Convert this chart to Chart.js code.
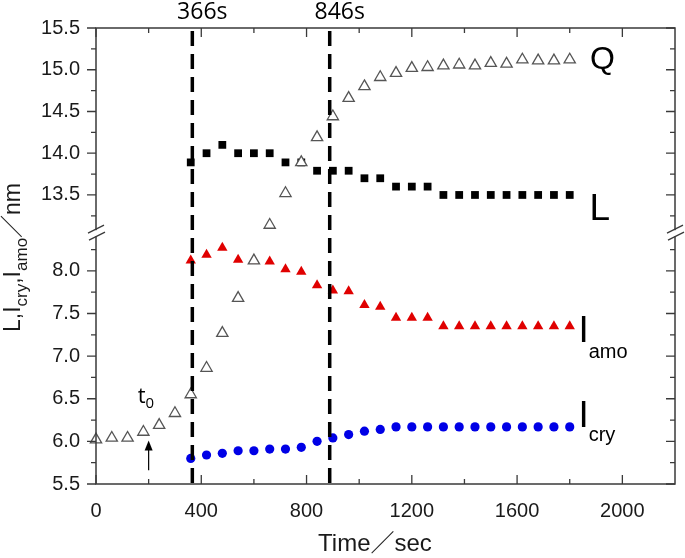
<!DOCTYPE html>
<html>
<head>
<meta charset="utf-8">
<script src="https://cdn.jsdelivr.net/npm/chart.js@4.4.0/dist/chart.umd.min.js"></script>
<style>
  html, body { margin: 0; padding: 0; background: #fff; }
</style>
</head>
<body>
<canvas id="myChart" width="685" height="558"></canvas>
<script>
'use strict';

// sampling times (s), one point every minute
let times = [0, 60, 120, 180, 240, 300, 360, 420, 480, 540, 600, 660, 720, 780, 840, 900,
  960, 1020, 1080, 1140, 1200, 1260, 1320, 1380, 1440, 1500, 1560, 1620, 1680, 1740, 1800];

// Q (open triangles), starts at t = 0
let qValues = [6.02, 6.04, 6.04, 6.11, 6.19, 6.33, 6.55, 6.86, 7.27, 7.68, 8.12,
  13.14, 13.52, 13.89, 14.19, 14.44, 14.66, 14.80, 14.91, 14.96, 15.02,
  15.03, 15.05, 15.06, 15.05, 15.08, 15.07, 15.12, 15.11, 15.11, 15.12];

// L, I_amo, I_cry start at t = 360
let lTimes = times.slice(6);
let lValues = [13.89, 14.00, 14.10, 14.00, 14.00, 14.00, 13.89, 13.89, 13.79, 13.79, 13.79,
  13.70, 13.70, 13.60, 13.60, 13.60, 13.50, 13.50, 13.50, 13.50, 13.50, 13.50, 13.50, 13.50, 13.50];
let amoValues = [8.12, 8.19, 8.27, 8.13, 8.12, 8.11, 8.02, 7.99, 7.83, 7.77, 7.76,
  7.60, 7.58, 7.45, 7.45, 7.45, 7.35, 7.35, 7.35, 7.35, 7.35, 7.35, 7.35, 7.35, 7.35];
let cryValues = [5.80, 5.84, 5.86, 5.89, 5.89, 5.91, 5.91, 5.93, 6.00, 6.04, 6.08,
  6.12, 6.14, 6.17, 6.17, 6.17, 6.17, 6.17, 6.17, 6.17, 6.17, 6.17, 6.17, 6.17, 6.17];

// tick labels
let xTicks = [0, 400, 800, 1200, 1600, 2000];
let yTicksLow = [5.5, 6.0, 6.5, 7.0, 7.5, 8.0];
let yTicksHigh = [13.5, 14.0, 14.5, 15.0, 15.5];

// vertical dashed markers
let markerTimes = [366, 888];
let markerLabels = ['366s', '846s'];

const SANS = "'Liberation Sans', Arial, sans-serif";
const OPEN = "'Open Sans', 'Noto Sans', sans-serif";
const CJK = "'Liberation Sans', 'Noto Sans CJK JP', sans-serif";

// the y axis is broken: Q goes on the lower axis below the break, on the upper one above
function points(ts, vs) {
  let out = [];
  for (let i = 0; i < ts.length; i++) {
    out.push({x: ts[i], y: vs[i]});
  }
  return out;
}
let qAll = points(times, qValues);
let qLow = qAll.filter(p => p.y < 10);
let qHigh = qAll.filter(p => p.y >= 10);

// draw text pieces one after another, some of them as subscripts
function drawRich(ctx, parts, x, y) {
  let cx = x;
  for (let p of parts) {
    ctx.font = p[1] + 'px ' + p[3];
    ctx.fillText(p[0], cx, y + p[2]);
    cx += ctx.measureText(p[0]).width;
  }
}

// minor ticks halfway between the major ones
function halfSteps(list, extraEnd) {
  let out = [];
  for (let i = 0; i < list.length - 1; i++) out.push((list[i] + list[i + 1]) / 2);
  if (extraEnd !== undefined) out.push(extraEnd);
  return out;
}

const decorPlugin = {
  id: 'decor',
  afterDatasetsDraw(chart) {
    const ctx = chart.ctx;
    const a = chart.chartArea;
    const x = chart.scales.x;
    const yL = chart.scales.yLow;
    const yH = chart.scales.yHigh;
    ctx.save();

    // dashed time markers
    ctx.strokeStyle = '#000';
    ctx.lineWidth = 3.5;
    ctx.setLineDash([15, 8]);
    ctx.fillStyle = '#000';
    ctx.textAlign = 'center';
    ctx.textBaseline = 'alphabetic';
    ctx.font = '23px ' + OPEN;
    for (let i = 0; i < markerTimes.length; i++) {
      let px = x.getPixelForValue(markerTimes[i]);
      ctx.beginPath();
      ctx.moveTo(px, a.top + 3);
      ctx.lineTo(px, a.bottom + 6);
      ctx.stroke();
      ctx.fillText(markerLabels[i], px + 10, 19);
    }
    ctx.setLineDash([]);

    // frame
    ctx.strokeStyle = '#3a3a3a';
    ctx.lineWidth = 1.5;
    ctx.strokeRect(a.left, a.top, a.right - a.left, a.bottom - a.top);

    // tick marks: left outward, others inward
    ctx.lineWidth = 1.3;
    ctx.beginPath();
    function yTick(scale, v, len) {
      let py = scale.getPixelForValue(v);
      ctx.moveTo(a.left - len, py); ctx.lineTo(a.left, py);
      ctx.moveTo(a.right - len, py); ctx.lineTo(a.right, py);
    }
    function xTick(v, len) {
      let px = x.getPixelForValue(v);
      ctx.moveTo(px, a.top); ctx.lineTo(px, a.top + len);
      ctx.moveTo(px, a.bottom); ctx.lineTo(px, a.bottom - len);
    }
    yTicksLow.forEach(v => yTick(yL, v, 9));
    halfSteps(yTicksLow, 8.25).forEach(v => yTick(yL, v, 5));
    yTicksHigh.forEach(v => yTick(yH, v, 9));
    halfSteps(yTicksHigh).concat([13.25]).forEach(v => yTick(yH, v, 5));
    xTicks.forEach(v => xTick(v, 9));
    halfSteps(xTicks).forEach(v => xTick(v, 5));
    ctx.stroke();

    // axis break marks
    let by = yH.bottom;
    [a.left, a.right].forEach(px => {
      ctx.fillStyle = '#fff';
      ctx.fillRect(px - 2, by - 4, 4, 6);
      ctx.beginPath();
      ctx.moveTo(px - 8, by - 1); ctx.lineTo(px + 8, by - 9);
      ctx.moveTo(px - 7, by + 6); ctx.lineTo(px + 9, by - 2);
      ctx.stroke();
    });

    // series labels at the right
    ctx.fillStyle = '#000';
    ctx.textAlign = 'left';
    ctx.textBaseline = 'alphabetic';
    ctx.font = '32px ' + SANS;
    ctx.fillText('Q', x.getPixelForValue(1877), 69);
    ctx.font = '37px ' + SANS;
    ctx.fillText('L', x.getPixelForValue(1875), 220);
    let ix = x.getPixelForValue(1833);
    drawRich(ctx, [['I', 37, 0, SANS], ['amo', 20, 16, SANS]], ix, 342);
    drawRich(ctx, [['I', 37, 0, SANS], ['cry', 20, 14, SANS]], ix, 427);

    // t0 with arrow
    let tx = x.getPixelForValue(200);
    drawRich(ctx, [['t', 22, 0, OPEN], ['0', 15, 5, OPEN]], tx - 11, 403);
    ctx.strokeStyle = '#000';
    ctx.lineWidth = 1.2;
    let ty0 = yL.getPixelForValue(5.66);
    let ty1 = yL.getPixelForValue(6.01);
    ctx.beginPath();
    ctx.moveTo(tx, ty0); ctx.lineTo(tx, ty1 + 8);
    ctx.stroke();
    ctx.beginPath();
    ctx.moveTo(tx, ty1); ctx.lineTo(tx - 4, ty1 + 10); ctx.lineTo(tx + 4, ty1 + 10);
    ctx.closePath();
    ctx.fill();

    // x axis title, a little left of the plot centre as in the original
    ctx.fillStyle = '#1a1a1a';
    ctx.textAlign = 'center';
    ctx.textBaseline = 'middle';
    ctx.font = '24px ' + CJK;
    ctx.fillText('Time\uFF0Fsec', x.getPixelForValue(1060), 544);

    // y axis title with subscripts, rotated
    ctx.textAlign = 'left';
    ctx.textBaseline = 'alphabetic';
    ctx.translate(20, 332);
    ctx.rotate(-Math.PI / 2);
    drawRich(ctx, [
      ['L,I', 23, 0, SANS], ['cry', 17, 7, SANS], [',I', 23, 0, SANS],
      ['amo', 17, 7, SANS], ['\uFF0Fnm', 23, 0, CJK]
    ], 0, 0);

    ctx.restore();
  }
};

function yAxis(min, max, weight, ticks) {
  return {
    type: 'linear',
    position: 'left',
    stack: 'y',
    stackWeight: weight,
    min: min,
    max: max,
    afterBuildTicks: s => { s.ticks = ticks.map(v => ({value: v})); },
    afterFit: s => { s.width = 96; },
    grid: {display: false, drawTicks: false},
    border: {display: false},
    ticks: {
      color: '#1a1a1a',
      padding: 16,
      font: {family: SANS, size: 20},
      callback: v => v.toFixed(1)
    }
  };
}

const ctx = document.getElementById('myChart');

new Chart(ctx, {
  type: 'scatter',
  data: {
    datasets: [
      {data: qLow, yAxisID: 'yLow', pointStyle: 'triangle', radius: 6.5,
        backgroundColor: '#fff', borderColor: '#555', borderWidth: 1.3, clip: false},
      {data: qHigh, yAxisID: 'yHigh', pointStyle: 'triangle', radius: 6.5,
        backgroundColor: '#fff', borderColor: '#555', borderWidth: 1.3, clip: false},
      {data: points(lTimes, lValues), yAxisID: 'yHigh', pointStyle: 'rect', radius: 5.5,
        backgroundColor: '#000', borderColor: '#000', borderWidth: 0, clip: false},
      {data: points(lTimes, amoValues), yAxisID: 'yLow', pointStyle: 'triangle', radius: 6,
        backgroundColor: '#e00000', borderColor: '#e00000', borderWidth: 0, clip: false},
      {data: points(lTimes, cryValues), yAxisID: 'yLow', pointStyle: 'circle', radius: 4.6,
        backgroundColor: '#0000e6', borderColor: '#0000e6', borderWidth: 0, clip: false}
    ]
  },
  options: {
    responsive: false,
    animation: false,
    events: [],
    layout: {padding: {top: 24, right: 10, left: 0, bottom: 0}},
    plugins: {legend: {display: false}, tooltip: {enabled: false}},
    scales: {
      x: {
        type: 'linear',
        min: 0,
        max: 2200,
        afterBuildTicks: s => { s.ticks = xTicks.map(v => ({value: v})); },
        afterFit: s => { s.height = 74; },
        grid: {display: false, drawTicks: false},
        border: {display: false},
        ticks: {color: '#1a1a1a', padding: 15, maxRotation: 0, autoSkip: false,
          font: {family: SANS, size: 20}, callback: v => String(v)}
      },
      yLow: yAxis(5.5, 8.43, 252, yTicksLow),
      yHigh: yAxis(13.03, 15.5, 208, yTicksHigh)
    }
  },
  plugins: [decorPlugin]
});
</script>
</body>
</html>
